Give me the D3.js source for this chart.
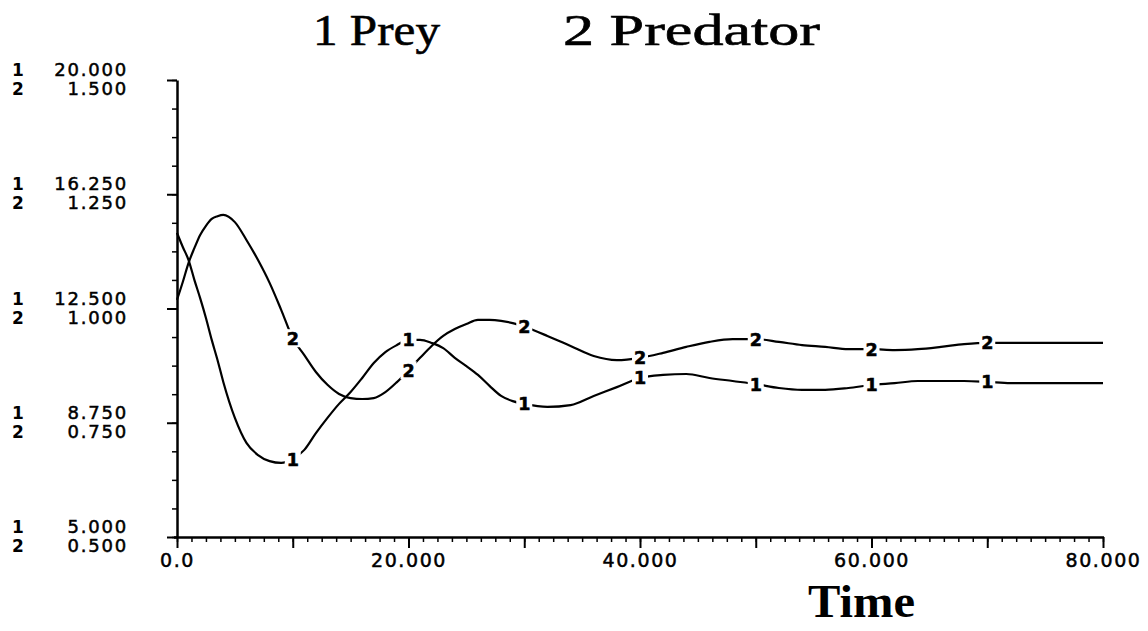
<!DOCTYPE html>
<html>
<head>
<meta charset="utf-8">
<script src="https://cdn.jsdelivr.net/npm/d3@7"></script>
<style>
  body { margin: 0; background: #fff; }
  svg { display: block; }
  .tick text { font-family: "DejaVu Sans", sans-serif; }
</style>
</head>
<body>
<div id="chart"></div>
<script>
// time in model units
const times = [0, 0.5, 1, 1.5, 2, 2.5, 3, 3.5, 4, 5, 6, 7, 8, 9, 10, 11, 12, 13, 14, 15, 16, 17, 18, 19, 20,
  21, 22, 23, 24, 25, 26, 27, 28, 29, 30, 32, 34, 36, 38, 40, 42, 44, 46, 48, 50, 52, 54, 56, 58, 60,
  62, 64, 66, 68, 70, 72, 75, 80];
const prey = [14.98, 14.52, 14.09, 13.44, 12.84, 12.19, 11.47, 10.81, 10.09, 8.91, 8.09, 7.69, 7.49, 7.43, 7.56,
  7.86, 8.41, 8.91, 9.37, 9.76, 10.22, 10.71, 11.07, 11.30, 11.47, 11.47, 11.37, 11.20, 10.88, 10.61, 10.32,
  9.96, 9.63, 9.46, 9.37, 9.27, 9.33, 9.63, 9.92, 10.22, 10.32, 10.35, 10.22, 10.12, 10.02, 9.89, 9.83, 9.83,
  9.89, 9.99, 10.05, 10.12, 10.12, 10.12, 10.09, 10.05, 10.05, 10.05];
const predator = [1.019, 1.058, 1.100, 1.132, 1.161, 1.181, 1.196, 1.202, 1.205, 1.189, 1.150, 1.106, 1.056, 0.997,
  0.935, 0.898, 0.861, 0.833, 0.813, 0.804, 0.802, 0.804, 0.817, 0.839, 0.865, 0.892, 0.918, 0.940, 0.955,
  0.966, 0.975, 0.975, 0.973, 0.968, 0.960, 0.940, 0.918, 0.896, 0.887, 0.892, 0.903, 0.916, 0.927, 0.933,
  0.933, 0.927, 0.920, 0.916, 0.911, 0.911, 0.909, 0.911, 0.916, 0.922, 0.925, 0.925, 0.925, 0.925];

const preyTicks = [5, 8.75, 12.5, 16.25, 20];
const predTicks = [0.5, 0.75, 1.0, 1.25, 1.5];
const timeTicks = [0, 20, 40, 60, 80];
const timeLabels = ["0.0", "20.000", "40.000", "60.000", "80.000"];
const markTimes = [10, 20, 30, 40, 50, 60, 70];

const W = 1148, H = 631;
const svg = d3.select("#chart").append("svg").attr("width", W).attr("height", H);

const x = d3.scaleLinear().domain([0, 80]).range([177, 1103]);
const yPrey = d3.scaleLinear().domain([5, 20]).range([537, 80]);
const yPred = d3.scaleLinear().domain([0.5, 1.5]).range([537, 80]);

// X axis: minor ticks, then major ticks with labels
const minorX = d3.range(0, 80.01, 1.25);
svg.append("g")
    .attr("transform", "translate(0,537)")
    .call(d3.axisBottom(x).tickValues(minorX).tickSize(5).tickSizeOuter(0).tickFormat(""))
    .call(g => g.select(".domain").attr("stroke-width", 2.5).attr("d", "M174,0.5H1104"))
    .call(g => g.selectAll(".tick line").attr("stroke-width", 1.5));
svg.append("g")
    .attr("transform", "translate(0,537)")
    .call(d3.axisBottom(x).tickValues(d3.range(0, 81, 10)).tickSize(11).tickSizeOuter(0)
        .tickFormat(d => { const i = timeTicks.indexOf(d); return i < 0 ? "" : timeLabels[i]; }))
    .call(g => g.select(".domain").remove())
    .call(g => g.selectAll(".tick line").attr("stroke-width", 2))
    .call(g => g.selectAll(".tick text")
        .attr("y", 17).attr("font-size", 19).attr("letter-spacing", 1.6).attr("fill", "#000")
        .attr("stroke", "#000").attr("stroke-width", 0.5));

// Y axis
const minorY = d3.range(5, 20.01, 0.9375);
svg.append("g")
    .attr("transform", "translate(177,0)")
    .call(d3.axisLeft(yPrey).tickValues(minorY).tickSize(5).tickSizeOuter(0).tickFormat(""))
    .call(g => g.select(".domain").attr("stroke-width", 2.5))
    .call(g => g.selectAll(".tick line").attr("stroke-width", 1.5));
svg.append("g")
    .attr("transform", "translate(177,0)")
    .call(d3.axisLeft(yPrey).tickValues(preyTicks).tickSize(10).tickSizeOuter(0).tickFormat(""))
    .call(g => g.select(".domain").remove())
    .call(g => g.selectAll(".tick line").attr("stroke-width", 2));

// stacked y labels: series number + value for each series
const ylab = svg.append("g").attr("font-family", "DejaVu Sans, sans-serif").attr("fill", "#000");
preyTicks.forEach((v, i) => {
  const ty = yPrey(v);
  ylab.append("text").attr("x", 12).attr("y", ty - 4).attr("font-size", 17).attr("font-weight", "bold").text("1");
  ylab.append("text").attr("x", 12).attr("y", ty + 15).attr("font-size", 17).attr("font-weight", "bold").text("2");
  ylab.append("text").attr("x", 128).attr("y", ty - 4).attr("text-anchor", "end")
      .attr("font-size", 18).attr("letter-spacing", 1.8).attr("stroke", "#000").attr("stroke-width", 0.5)
      .text(d3.format(".3f")(v));
  ylab.append("text").attr("x", 128).attr("y", ty + 15).attr("text-anchor", "end")
      .attr("font-size", 18).attr("letter-spacing", 1.8).attr("stroke", "#000").attr("stroke-width", 0.5)
      .text(d3.format(".3f")(predTicks[i]));
});

// curves
const preyLine = d3.line().x((d, i) => x(times[i])).y(d => yPrey(d)).curve(d3.curveMonotoneX);
const predLine = d3.line().x((d, i) => x(times[i])).y(d => yPred(d)).curve(d3.curveMonotoneX);
svg.append("path").attr("d", preyLine(prey)).attr("fill", "none").attr("stroke", "#000").attr("stroke-width", 2.2);
svg.append("path").attr("d", predLine(predator)).attr("fill", "none").attr("stroke", "#000").attr("stroke-width", 2.2);

// series numbers along the curves
function markers(vals, yScale, label) {
  markTimes.forEach(t => {
    const i = times.indexOf(t);
    const cx = x(t), cy = yScale(vals[i]);
    svg.append("rect").attr("x", cx - 8).attr("y", cy - 9).attr("width", 16).attr("height", 18).attr("fill", "#fff");
    svg.append("text").attr("x", cx).attr("y", cy + 6.5).attr("text-anchor", "middle")
        .attr("font-family", "DejaVu Sans, sans-serif").attr("font-weight", "bold").attr("font-size", 17.5)
        .attr("stroke", "#000").attr("stroke-width", 0.6)
        .text(label);
  });
}
markers(prey, yPrey, "1");
markers(predator, yPred, "2");

// titles
const serif = "Liberation Serif, Times New Roman, serif";
svg.append("text").attr("x", 313).attr("y", 45).attr("font-family", serif).attr("font-size", 44)
    .attr("stroke", "#000").attr("stroke-width", 0.6)
    .attr("textLength", 127).attr("lengthAdjust", "spacingAndGlyphs").text("1 Prey");
svg.append("text").attr("x", 563).attr("y", 45).attr("font-family", serif).attr("font-size", 44)
    .attr("stroke", "#000").attr("stroke-width", 0.6)
    .attr("textLength", 257).attr("lengthAdjust", "spacingAndGlyphs").text("2 Predator");
svg.append("text").attr("x", 808).attr("y", 617).attr("font-family", serif).attr("font-size", 46)
    .attr("font-weight", "bold").attr("textLength", 107).attr("lengthAdjust", "spacingAndGlyphs").text("Time");
</script>
</body>
</html>
